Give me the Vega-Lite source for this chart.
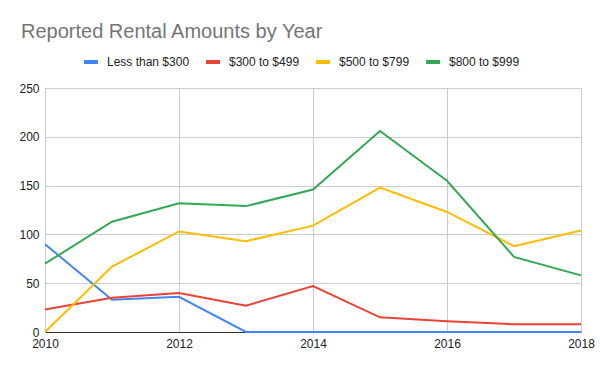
{
  "$schema": "https://vega.github.io/schema/vega-lite/v6.json",
  "width": 536,
  "height": 244,
  "autosize": {"type": "none"},
  "padding": {"left": 45, "top": 88, "right": 19, "bottom": 39},
  "background": "white",
  "config": {
    "font": "Liberation Sans",
    "view": {"stroke": null}
  },
  "title": {
    "text": "Reported Rental Amounts by Year",
    "anchor": "start",
    "frame": "group",
    "fontSize": 20,
    "fontWeight": "normal",
    "color": "#757575",
    "font": "Liberation Sans",
    "baseline": "alphabetic",
    "dx": -24,
    "offset": -5
  },
  "data": {
    "values": [
      {"year": 2010, "series": "Less than $300", "value": 90},
      {"year": 2011, "series": "Less than $300", "value": 33},
      {"year": 2012, "series": "Less than $300", "value": 36},
      {"year": 2013, "series": "Less than $300", "value": 0},
      {"year": 2014, "series": "Less than $300", "value": 0},
      {"year": 2015, "series": "Less than $300", "value": 0},
      {"year": 2016, "series": "Less than $300", "value": 0},
      {"year": 2017, "series": "Less than $300", "value": 0},
      {"year": 2018, "series": "Less than $300", "value": 0},
      {"year": 2010, "series": "$300 to $499", "value": 23},
      {"year": 2011, "series": "$300 to $499", "value": 35},
      {"year": 2012, "series": "$300 to $499", "value": 40},
      {"year": 2013, "series": "$300 to $499", "value": 27},
      {"year": 2014, "series": "$300 to $499", "value": 47},
      {"year": 2015, "series": "$300 to $499", "value": 15},
      {"year": 2016, "series": "$300 to $499", "value": 11},
      {"year": 2017, "series": "$300 to $499", "value": 8},
      {"year": 2018, "series": "$300 to $499", "value": 8},
      {"year": 2010, "series": "$500 to $799", "value": 0},
      {"year": 2011, "series": "$500 to $799", "value": 67},
      {"year": 2012, "series": "$500 to $799", "value": 103},
      {"year": 2013, "series": "$500 to $799", "value": 93},
      {"year": 2014, "series": "$500 to $799", "value": 109},
      {"year": 2015, "series": "$500 to $799", "value": 148},
      {"year": 2016, "series": "$500 to $799", "value": 123},
      {"year": 2017, "series": "$500 to $799", "value": 88},
      {"year": 2018, "series": "$500 to $799", "value": 104},
      {"year": 2010, "series": "$800 to $999", "value": 70},
      {"year": 2011, "series": "$800 to $999", "value": 113},
      {"year": 2012, "series": "$800 to $999", "value": 132},
      {"year": 2013, "series": "$800 to $999", "value": 129},
      {"year": 2014, "series": "$800 to $999", "value": 146},
      {"year": 2015, "series": "$800 to $999", "value": 206},
      {"year": 2016, "series": "$800 to $999", "value": 155},
      {"year": 2017, "series": "$800 to $999", "value": 77},
      {"year": 2018, "series": "$800 to $999", "value": 58}
    ]
  },
  "mark": {"type": "line", "strokeWidth": 2, "clip": false},
  "encoding": {
    "x": {
      "field": "year",
      "type": "quantitative",
      "scale": {"domain": [2010, 2018], "nice": false, "zero": false},
      "axis": {
        "title": null,
        "values": [2010, 2012, 2014, 2016, 2018],
        "format": "d",
        "labelFlush": false,
        "ticks": false,
        "labelPadding": 6,
        "labelFontSize": 12,
        "labelColor": "#222222",
        "labelFont": "Liberation Sans",
        "domainColor": "#333333",
        "domainWidth": 1,
        "gridColor": "#cccccc",
        "gridWidth": 1
      }
    },
    "y": {
      "field": "value",
      "type": "quantitative",
      "scale": {"domain": [0, 250], "nice": false},
      "axis": {
        "title": null,
        "values": [0, 50, 100, 150, 200, 250],
        "ticks": false,
        "domain": false,
        "labelPadding": 6,
        "labelFontSize": 12,
        "labelColor": "#222222",
        "labelFont": "Liberation Sans",
        "gridColor": "#cccccc",
        "gridWidth": 1
      }
    },
    "color": {
      "field": "series",
      "type": "nominal",
      "scale": {
        "domain": ["Less than $300", "$300 to $499", "$500 to $799", "$800 to $999"],
        "range": ["#4285F4", "#EA4335", "#FBBC04", "#34A853"]
      },
      "legend": {
        "title": null,
        "orient": "none",
        "direction": "horizontal",
        "legendX": 37,
        "legendY": -35,
        "symbolType": "stroke",
        "symbolSize": 196,
        "symbolStrokeWidth": 4,
        "labelFontSize": 12,
        "labelFont": "Liberation Sans",
        "labelColor": "#222222",
        "labelOffset": 7,
        "columnPadding": 8
      }
    },
    "order": {"field": "year", "type": "quantitative"}
  }
}
